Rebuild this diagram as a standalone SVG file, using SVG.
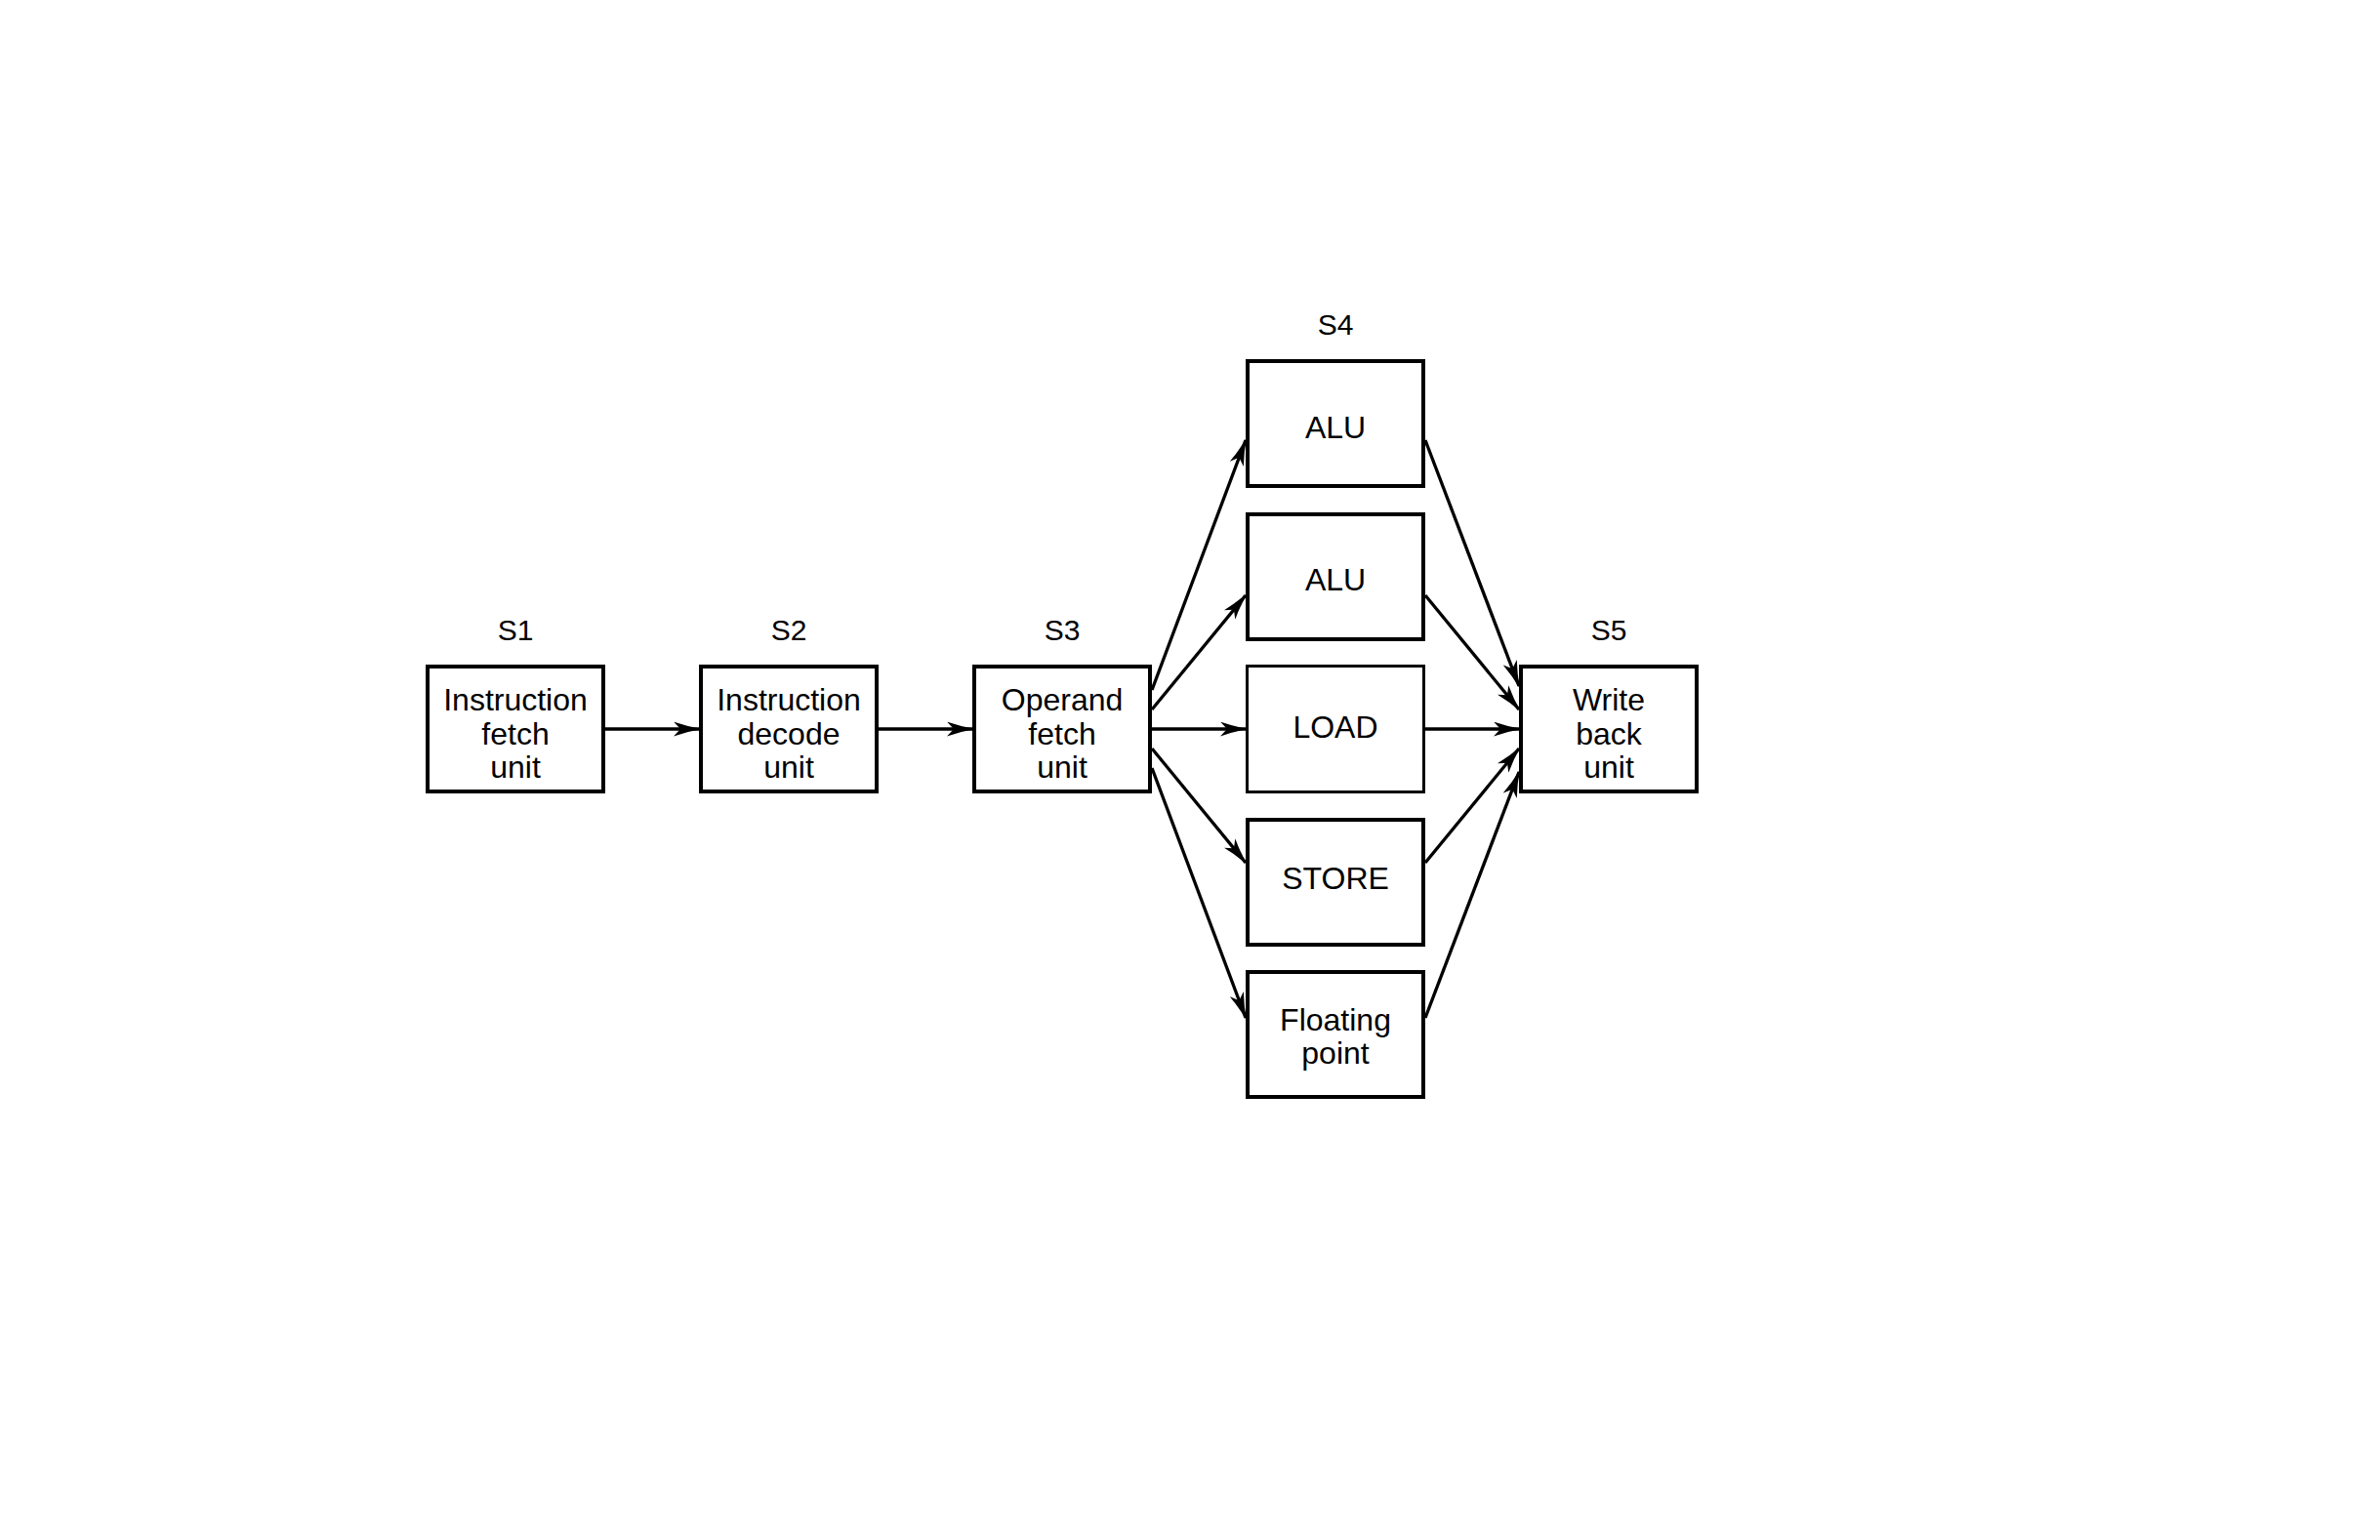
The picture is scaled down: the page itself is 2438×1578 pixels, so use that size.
<svg xmlns="http://www.w3.org/2000/svg" width="2438" height="1578" viewBox="0 0 2438 1578">
<style>
.box{fill:#fff;stroke:#000;stroke-width:4}
.thin{stroke-width:3}
.t{font-family:"Liberation Sans",Arial,Helvetica,sans-serif;font-size:32px;fill:#000;text-anchor:middle}
.lbl{font-family:"Liberation Sans",Arial,Helvetica,sans-serif;font-size:30px;fill:#000;text-anchor:middle}
.c{stroke:#000;stroke-width:3.3;fill:none;marker-end:url(#ah)}
</style>
<defs>
<marker id="ah" markerUnits="userSpaceOnUse" viewBox="0 0 29 15" markerWidth="29" markerHeight="15" refX="26" refY="7.5" orient="auto">
<path d="M0,0 Q14,5 29,7.5 Q14,10 0,15 L7,7.5 Z" fill="#000"/>
</marker>
</defs>
<rect width="2438" height="1578" fill="#fff"/>
<g id="s1">
<text class="lbl" x="528" y="656">S1</text>
<rect class="box" x="438" y="683" width="180" height="128"/>
<text class="t" x="528" y="728">Instruction</text>
<text class="t" x="528" y="763">fetch</text>
<text class="t" x="528" y="797">unit</text>
</g>
<g id="s2">
<text class="lbl" x="808" y="656">S2</text>
<rect class="box" x="718" y="683" width="180" height="128"/>
<text class="t" x="808" y="728">Instruction</text>
<text class="t" x="808" y="763">decode</text>
<text class="t" x="808" y="797">unit</text>
</g>
<g id="s3">
<text class="lbl" x="1088" y="656">S3</text>
<rect class="box" x="998" y="683" width="180" height="128"/>
<text class="t" x="1088" y="728">Operand</text>
<text class="t" x="1088" y="763">fetch</text>
<text class="t" x="1088" y="797">unit</text>
</g>
<g id="s4-label">
<text class="lbl" x="1368" y="343">S4</text>
</g>
<g id="alu1">
<rect class="box" x="1278" y="370" width="180" height="128"/>
<text class="t" x="1368" y="449">ALU</text>
</g>
<g id="alu2">
<rect class="box" x="1278" y="527" width="180" height="128"/>
<text class="t" x="1368" y="605">ALU</text>
</g>
<g id="load">
<rect class="box thin" x="1277.5" y="682.5" width="181" height="129"/>
<text class="t" x="1368" y="756">LOAD</text>
</g>
<g id="store">
<rect class="box" x="1278" y="840" width="180" height="128"/>
<text class="t" x="1368" y="911">STORE</text>
</g>
<g id="fp">
<rect class="box" x="1278" y="996" width="180" height="128"/>
<text class="t" x="1368" y="1056">Floating</text>
<text class="t" x="1368" y="1090">point</text>
</g>
<g id="s5">
<text class="lbl" x="1648" y="656">S5</text>
<rect class="box" x="1558" y="683" width="180" height="128"/>
<text class="t" x="1648" y="728">Write</text>
<text class="t" x="1648" y="763">back</text>
<text class="t" x="1648" y="797">unit</text>
</g>
<g id="connectors">
<path class="c" d="M620,747 L716,747"/>
<path class="c" d="M900,747 L996,747"/>
<path class="c" d="M1180,747 L1276,747"/>
<path class="c" d="M1460,747 L1556,747"/>
<path class="c" d="M1180,707 L1276,451"/>
<path class="c" d="M1180,727 L1276,610"/>
<path class="c" d="M1180,767 L1276,884"/>
<path class="c" d="M1180,787 L1276,1043"/>
<path class="c" d="M1460,451 L1556,703"/>
<path class="c" d="M1460,610 L1556,727"/>
<path class="c" d="M1460,884 L1556,767"/>
<path class="c" d="M1460,1043 L1556,791"/>
</g>
</svg>
